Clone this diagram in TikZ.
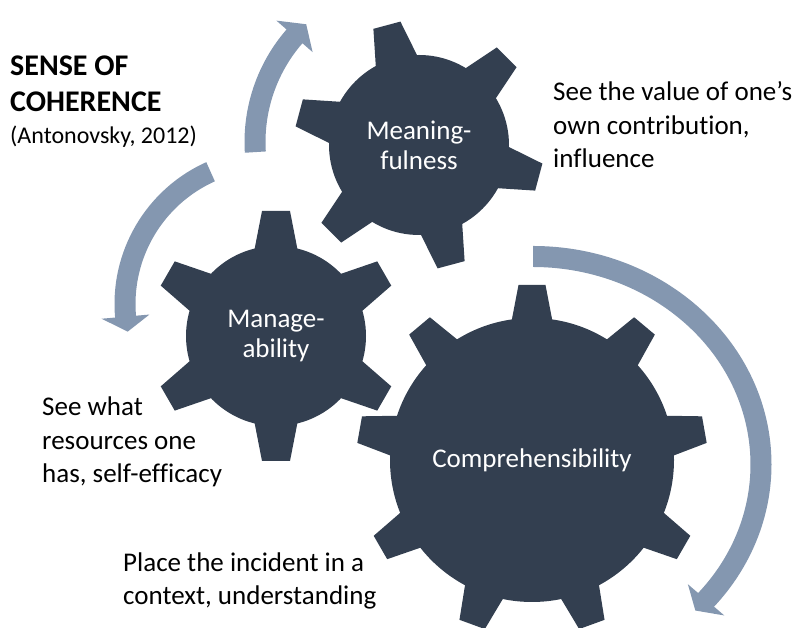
\documentclass[tikz,border=0pt]{standalone}
\usepackage{fontspec}
\setmainfont{Carlito}[Ligatures={TeX,NoCommon}]
\usepackage{tikz}
\definecolor{gearblue}{HTML}{333F50}
\definecolor{arrowblue}{HTML}{8497B0}

\begin{document}
\begin{tikzpicture}[x=1pt,y=1pt,
gear/.style={fill=gearblue},
swirl/.style={fill=arrowblue},
lbl/.style={text=white,align=center,inner sep=0pt,font=\fontsize{27}{30}\selectfont},
desc/.style={align=left,inner sep=0pt,anchor=base west,font=\fontsize{27}{33.5}\selectfont}]
\useasboundingbox (0,0) rectangle (801,628);

% curved arrows
\begin{scope}[shift={(416,486)}]
\fill[swirl] (183.6:171.5) arc[start angle=183.6,end angle=139,radius=171.5]
 -- (139:185) -- (133:161) -- (139:137) -- (139:150.5)
 arc[start angle=139,end angle=183.6,radius=150.5] -- cycle;
\end{scope}
\begin{scope}[shift={(270,324)}]
\fill[swirl] (114.2:155.5) arc[start angle=114.2,end angle=185,radius=155.5]
 -- (185:169) -- (191:145) -- (185:121) -- (185:134.5)
 arc[start angle=185,end angle=114.2,radius=134.5] -- cycle;
\end{scope}
\begin{scope}[shift={(533,163.5)}]
\fill[swirl] (90:238.5 and 218.5) arc[start angle=90,end angle=-40.6,x radius=238.5,y radius=218.5]
 -- (-40.6:252 and 232) -- (-44.6:228 and 208) -- (-40.6:204 and 184) -- (-40.6:217.5 and 197.5)
 arc[start angle=-40.6,end angle=90,x radius=217.5,y radius=197.5] -- cycle;
\end{scope}

% gears
\begin{scope}[shift={(419,483)}]
\fill[gear] (0,0) circle[radius=90];
\foreach \a in {105,165,...,405}
  \fill[gear,rotate=\a] (84,-22) -- (124,-14) -- (124,14) -- (84,22) -- cycle;
\node[lbl] (meaning) at (0,0) {Meaning-\\fulness};
\end{scope}
\begin{scope}[shift={(276,292)}]
\fill[gear] (0,0) circle[radius=90];
\foreach \a in {90,150,...,390}
  \fill[gear,rotate=\a] (84,-22) -- (125,-14) -- (125,14) -- (84,22) -- cycle;
\node[lbl] (manage) at (0,0) {Manage-\\ability};
\end{scope}
\begin{scope}[shift={(532,168)}]
\fill[gear] (0,0) circle[radius=142];
\foreach \a in {10,50,...,330}
  \fill[gear,rotate=\a] (136,-21) -- (175,-13.5) -- (175,13.5) -- (136,21) -- cycle;
\node[lbl] (compr) at (0,0) {Comprehensibility};
\end{scope}

% texts (base = baseline of the last line)
\node[anchor=base west,align=left,inner sep=0pt,font=\bfseries\fontsize{30}{36.6}\selectfont]
 (title) at (10,516.3) {SENSE OF\\COHERENCE};
\node[anchor=base west,inner sep=0pt,font=\fontsize{24}{29}\selectfont]
 (cite) at (10,484.7) {(Antonovsky, 2012)};
\node[desc] (meaningtxt) at (553,460) {See the value of one’s\\own contribution,\\influence};
\node[desc] (managetxt) at (42,145) {See what\\resources one\\has, self-efficacy};
\node[desc] (comprtxt) at (123,23) {Place the incident in a\\context, understanding};
\end{tikzpicture}
\end{document}
